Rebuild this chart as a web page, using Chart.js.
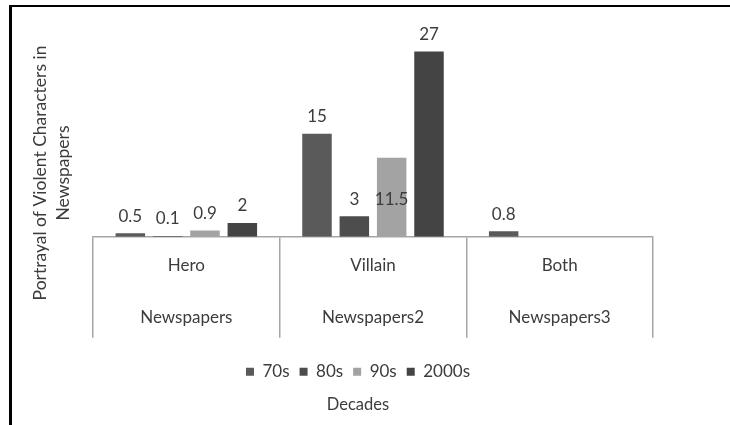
<!DOCTYPE html>
<html>
<head>
<meta charset="utf-8">
<script src="https://cdn.jsdelivr.net/npm/chart.js@4.4.1/dist/chart.umd.min.js"></script>
<style>
  html, body { margin: 0; padding: 0; background: #fff; }
  #wrap { position: relative; width: 730px; height: 425px; overflow: hidden; }
  #frame { position: absolute; left: 9px; top: 5px; right: -5px; bottom: -5px;
           border-left: 3px solid #000; border-top: 2px solid #000; pointer-events: none; }
  canvas { position: absolute; left: 0; top: 0; }
</style>
</head>
<body>
<div id="wrap">
  <canvas id="c" width="730" height="425"></canvas>
  <div id="frame"></div>
</div>
<script>
// Portrayal of violent characters in newspapers, by decade
const groups  = ['Hero', 'Villain', 'Both'];
const sources = ['Newspapers', 'Newspapers2', 'Newspapers3'];
const decades = ['70s', '80s', '90s', '2000s'];

const v70s   = [0.5, 15, 0.8];
const v80s   = [0.1, 3, null];
const v90s   = [0.9, 11.5, null];
const v2000s = [2, 27, null];

const decadeColors = ['#5a5a5a', '#4d4d4d', '#a3a3a3', '#444444'];
const textColor = '#3c3c3c';
const lineColor = '#a6a6a6';
const fontStack = 'Lato, "Open Sans", sans-serif';

// a value label that shares the row of another series' label: "dataset,category" -> dataset
const labelRowOverride = { '2,1': 1 };

Chart.defaults.font.family = fontStack;
Chart.defaults.font.size = 17;
Chart.defaults.color = textColor;

const seriesValues = [v70s, v80s, v90s, v2000s];

const valueLabels = {
  id: 'valueLabels',
  afterDatasetsDraw(chart) {
    const ctx = chart.ctx;
    ctx.save();
    ctx.font = '17px ' + fontStack;
    ctx.fillStyle = textColor;
    ctx.textAlign = 'center';
    ctx.textBaseline = 'middle';
    chart.data.datasets.forEach((ds, d) => {
      const meta = chart.getDatasetMeta(d);
      ds.data.forEach((v, i) => {
        if (v === null || v === undefined) return;
        const bar = meta.data[i];
        const rowFrom = labelRowOverride[d + ',' + i];
        const topY = rowFrom !== undefined ? chart.getDatasetMeta(rowFrom).data[i].y : bar.y;
        ctx.fillText(String(v), bar.x, topY - 17);
      });
    });
    ctx.restore();
  }
};

// two-line rotated title for the value axis
const sideTitle = {
  id: 'sideTitle',
  afterDraw(chart) {
    const ctx = chart.ctx;
    ctx.save();
    ctx.font = '17.5px ' + fontStack;
    ctx.fillStyle = textColor;
    ctx.textAlign = 'center';
    ctx.textBaseline = 'middle';
    ctx.translate(0, 173);
    ctx.rotate(-Math.PI / 2);
    ctx.fillText('Portrayal of Violent Characters in', 0, 40);
    ctx.fillText('Newspapers', 0, 63);
    ctx.restore();
  }
};

new Chart(document.getElementById('c'), {
  type: 'bar',
  data: {
    labels: groups.map((g, i) => [g, sources[i]]),
    datasets: decades.map((name, k) => ({
      label: name,
      data: seriesValues[k],
      backgroundColor: decadeColors[k],
      borderWidth: 0,
      barPercentage: 0.79,
      categoryPercentage: 0.8
    }))
  },
  options: {
    responsive: false,
    animation: false,
    devicePixelRatio: 1,
    layout: { padding: { top: 31, left: 0, right: 14, bottom: 6 } },
    scales: {
      x: {
        offset: true,
        grid: { display: true, offset: true, drawOnChartArea: false, drawTicks: true,
                tickLength: 101, color: lineColor, lineWidth: 1.5 },
        border: { display: true, color: lineColor, width: 1.5 },
        ticks: { padding: -98, maxRotation: 0, autoSkip: false, color: textColor,
                 font: { size: 17, lineHeight: '52px' } },
        afterFit(s) { s.height = 116.5; }
      },
      y: {
        min: 0, max: 30,
        grid: { display: false }, border: { display: false }, ticks: { display: false },
        afterFit(s) { s.width = 93; }
      },
      y2: {
        position: 'right', min: 0, max: 30,
        grid: { display: false }, border: { display: false }, ticks: { display: false },
        afterFit(s) { s.width = 63; }
      }
    },
    plugins: {
      legend: {
        position: 'bottom',
        labels: { boxWidth: 8, boxHeight: 8, padding: 10, color: textColor, font: { size: 17 } }
      },
      title: {
        display: true, text: 'Decades', position: 'bottom', color: textColor,
        font: { size: 16.5, weight: 'normal' }, padding: { top: 5, bottom: 4 }
      },
      tooltip: { enabled: false }
    }
  },
  plugins: [valueLabels, sideTitle]
});
</script>
</body>
</html>
